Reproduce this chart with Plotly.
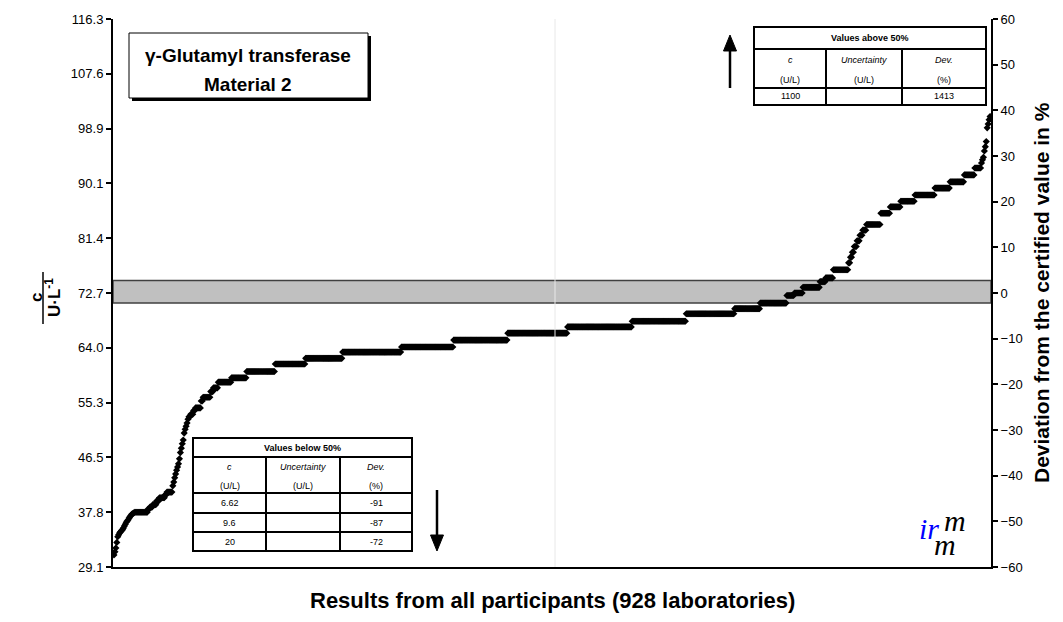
import numpy as np
import plotly.graph_objects as go

CERTIFIED = 72.7  # certified value, U/L

# Laboratory results inside the plotted range, sorted: reported level (U/L) and number of labs
levels = [
    31.0, 31.5, 32.1, 33.0, 33.9, 34.2, 34.5, 34.7, 34.9, 35.0, 35.3, 35.6, 35.9,
    36.2, 36.4, 36.6, 36.9, 37.1, 37.3, 37.5, 37.6, 37.7,
    37.8, 38.3, 38.6, 39.0, 39.6, 40.1, 40.6, 41.0,
    42.0, 42.6, 43.3, 43.9, 44.5, 45.0, 45.5, 46.3, 47.3, 48.0, 48.7, 49.3,
    50.4, 51.0, 51.5, 52.0,
    52.6, 53.0, 53.4, 54.0, 54.4, 55.5, 56.1, 57.0, 57.6, 58.5, 59.2,
    60.2, 61.4, 62.3, 63.3, 64.1, 65.2, 66.3, 67.3, 68.2, 69.4, 70.2, 71.1,
    72.3, 72.7, 73.6, 74.5, 75.1, 76.4,
    77.5, 78.4, 79.2, 80.1, 81.0, 81.9, 82.7,
    83.6, 85.4, 86.4, 87.3, 88.3, 89.4, 90.4, 91.5, 92.6,
    93.4, 93.9, 94.3, 95.3, 96.0, 96.8, 99.0, 99.6, 100.3, 100.8,
]
counts = [
    1, 1, 1, 1, 1, 1, 1, 1, 1, 1, 1, 1, 1,
    1, 1, 1, 1, 1, 1, 1, 1, 1,
    14, 2, 3, 4, 3, 6, 2, 6,
    1, 1, 1, 1, 1, 1, 1, 1, 1, 1, 1, 1,
    1, 1, 1, 1,
    1, 2, 3, 2, 6, 2, 8, 3, 5, 14, 16,
    30, 32, 39, 62, 55, 57, 63, 68, 57, 51, 27, 28,
    8, 9, 18, 6, 8, 16,
    2, 2, 2, 3, 3, 3, 4,
    15, 10, 11, 15, 21, 16, 15, 11, 7,
    1, 1, 1, 1, 1, 1, 1, 1, 1, 1,
]

# Results outside the plotted range
below_c = ["6.62", "9.6", "20"]
below_dev = ["-91", "-87", "-72"]
above_c = ["1100"]
above_dev = ["1413"]

left_tick_labels = ["29.1", "37.8", "46.5", "55.3", "64.0", "72.7",
                    "81.4", "90.1", "98.9", "107.6", "116.3"]
right_ticks = list(range(-60, 61, 10))
band = [71.1, 74.7]  # uncertainty range of the certified value, U/L

values = np.repeat(levels, counts)
ranks = np.arange(1, len(values) + 1)

# page / plot-area geometry in pixels
W, H = 1063, 622
L, R, T, B = 113, 991, 19, 567


def px(x):
    return (x - L) / (R - L)


def py(y):
    return (B - y) / (B - T)


shapes = []
annotations = []


def line(x0, y0, x1, y1, width=2, color="black"):
    shapes.append(dict(type="line", xref="paper", yref="paper",
                       x0=px(x0), y0=py(y0), x1=px(x1), y1=py(y1),
                       line=dict(color=color, width=width)))


def rect(x0, y0, x1, y1, fill="white", lw=2, lc="black"):
    shapes.append(dict(type="rect", xref="paper", yref="paper",
                       x0=px(x0), y0=py(y0), x1=px(x1), y1=py(y1),
                       fillcolor=fill, line=dict(color=lc, width=lw)))


def triangle(pts):
    path = "M " + " L ".join(f"{px(x):.5f},{py(y):.5f}" for x, y in pts) + " Z"
    shapes.append(dict(type="path", xref="paper", yref="paper", path=path,
                       fillcolor="black", line=dict(color="black", width=1)))


def text(x, y, s, size=10, color="black", family="Arial", angle=0, xanchor="center"):
    annotations.append(dict(x=px(x), y=py(y), xref="paper", yref="paper", text=s,
                            showarrow=False, textangle=angle, xanchor=xanchor,
                            yanchor="middle",
                            font=dict(size=size, color=color, family=family)))


def table(cols, rows, title, cvals, dvals):
    rect(cols[0], rows[0], cols[-1], rows[-1], lw=2)
    for r in rows[1:-1]:
        line(cols[0], r, cols[-1], r, width=2)
    for c in cols[1:-1]:
        line(c, rows[1], c, rows[-1], width=2)
    mids = [(cols[i] + cols[i + 1]) / 2 for i in range(3)]
    text((cols[0] + cols[-1]) / 2, (rows[0] + rows[1]) / 2, "<b>" + title + "</b>", size=9)
    h = rows[2] - rows[1]
    for m, head, unit in zip(mids, ["<i>c</i>", "<i>Uncertainty</i>", "<i>Dev.</i>"],
                             ["(U/L)", "(U/L)", "(%)"]):
        text(m, rows[1] + h * 0.28, head, size=9)
        text(m, rows[1] + h * 0.8, unit, size=9)
    for i, (cv, dv) in enumerate(zip(cvals, dvals)):
        ym = (rows[2 + i] + rows[3 + i]) / 2
        text(mids[0], ym, cv, size=9)
        text(mids[2], ym, dv, size=9)


# faint centre gridline of the plot area
line((L + R) / 2 + 3, T, (L + R) / 2 + 3, B, width=1, color="#e8e8e8")

# certified value band
shapes.append(dict(type="rect", xref="paper", yref="y", x0=0, x1=1,
                   y0=band[0], y1=band[1], fillcolor="#c0c0c0",
                   line=dict(color="#404040", width=1.5), layer="below"))

# title box with drop shadow
rect(132, 36, 371, 101, fill="black", lw=0)
rect(129, 33, 368, 98, fill="white", lw=1)
text(248, 55, "<b>γ-Glutamyl transferase</b>", size=19)
text(248, 84, "<b>Material 2</b>", size=19)

# tables of out-of-range results
table([754, 826, 902, 986], [27, 49, 88, 105], "Values above 50%", above_c, above_dev)
table([193, 266, 340, 412], [438, 457, 493, 513, 532, 551], "Values below 50%", below_c, below_dev)

# arrows pointing to the off-scale results
line(730, 88, 730, 48, width=2.5)
triangle([(730, 35), (723.5, 51), (736.5, 51)])
line(437, 490, 437, 538, width=2.5)
triangle([(437, 551), (430.5, 535), (443.5, 535)])

# irmm logo
text(929, 528, "<i>ir</i>", size=30, color="#0000ff", family="Liberation Serif")
text(955, 520, "<i>m</i>", size=30, family="Liberation Serif")
text(945, 544, "<i>m</i>", size=30, family="Liberation Serif")

# axis titles
text(552, 600, "<b>Results from all participants (928 laboratories)</b>", size=22)
text(1041, 293, "<b>Deviation from the certified value in %</b>", size=21, angle=-90)
text(36, 298, "<b>c</b>", size=17, angle=-90)
line(43, 272, 43, 324, width=1.5)
text(53, 298, "<b>U·L<sup>-1</sup></b>", size=17, angle=-90)

fig = go.Figure()
fig.add_trace(go.Scatter(x=ranks, y=values, mode="markers",
                         marker=dict(symbol="diamond", size=5.5, color="black",
                                     line=dict(width=0)),
                         showlegend=False, hoverinfo="skip"))
# right axis carries the relative deviation scale
fig.add_trace(go.Scatter(x=[ranks[0]], y=[0], yaxis="y2", mode="markers",
                         marker=dict(opacity=0), showlegend=False, hoverinfo="skip"))

left_vals = [CERTIFIED * (0.4 + 0.12 * k) for k in range(len(left_tick_labels))]

fig.update_layout(
    width=W, height=H,
    margin=dict(l=L, r=W - R, t=T, b=H - B),
    paper_bgcolor="white", plot_bgcolor="white",
    font=dict(family="Arial", color="black"),
    xaxis=dict(range=[0, len(values) + 1], showgrid=False, zeroline=False,
               showticklabels=False, ticks="", showline=True, linecolor="black",
               linewidth=2),
    yaxis=dict(range=[CERTIFIED * 0.4, CERTIFIED * 1.6], tickvals=left_vals,
               ticktext=left_tick_labels, showgrid=False, zeroline=False,
               showline=True, linecolor="black", linewidth=2, ticks="outside",
               ticklen=5, tickwidth=1.5, tickcolor="black",
               tickfont=dict(size=13, family="Arial")),
    yaxis2=dict(range=[-60, 60], tickvals=right_ticks, overlaying="y", side="right",
                showgrid=False, zeroline=False, showline=True, linecolor="black",
                linewidth=2, ticks="outside", ticklen=5, tickwidth=1.5,
                tickcolor="black", tickfont=dict(size=13, family="Arial")),
    shapes=shapes,
    annotations=annotations,
)

fig.write_html("out.html")
